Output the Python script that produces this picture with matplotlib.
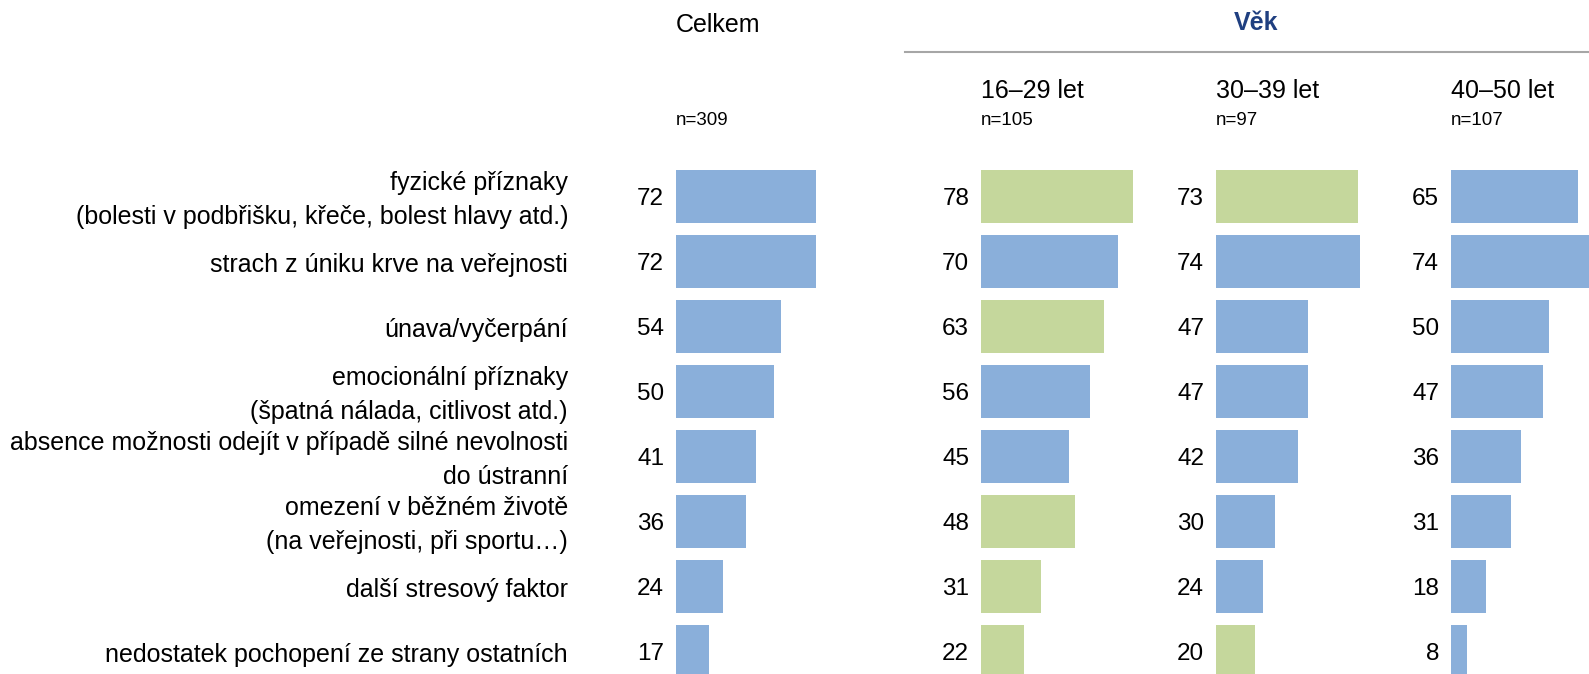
import numpy as np
import matplotlib.pyplot as plt
from matplotlib import transforms

plt.rcParams['font.family'] = ['Liberation Sans', 'DejaVu Sans']

# data
categories = [
    'fyzické příznaky\n(bolesti v podbřišku, křeče, bolest hlavy atd.)',
    'strach z úniku krve na veřejnosti',
    'únava/vyčerpání',
    'emocionální příznaky\n(špatná nálada, citlivost atd.)',
    'absence možnosti odejít v případě silné nevolnosti\ndo ústranní',
    'omezení v běžném životě\n(na veřejnosti, při sportu…)',
    'další stresový faktor',
    'nedostatek pochopení ze strany ostatních',
]
groups = ['Celkem', '16–29 let', '30–39 let', '40–50 let']
n_labels = ['n=309', 'n=105', 'n=97', 'n=107']
celkem = [72, 72, 54, 50, 41, 36, 24, 17]
vek_16_29 = [78, 70, 63, 56, 45, 48, 31, 22]
vek_30_39 = [73, 74, 47, 47, 42, 30, 24, 20]
vek_40_50 = [65, 74, 50, 47, 36, 31, 18, 8]
# 1 = significantly higher (green)
hl_celkem = [0, 0, 0, 0, 0, 0, 0, 0]
hl_16_29 = [1, 0, 1, 0, 0, 1, 1, 1]
hl_30_39 = [1, 0, 0, 0, 0, 0, 0, 1]
hl_40_50 = [0, 0, 0, 0, 0, 0, 0, 0]

series = [celkem, vek_16_29, vek_30_39, vek_40_50]
highlights = [hl_celkem, hl_16_29, hl_30_39, hl_40_50]

BLUE = '#8aafda'
GREEN = '#c5d79c'

W, H = 1589, 674
fig = plt.figure(figsize=(W / 100, H / 100), dpi=100)

px_per_unit = 1.95
row_h = 65.0
row0 = 196.5          # centre of first row, px from top
ax_w = 200
starts = [676, 981, 1216, 1451]
top_px = row0 - 0.5 * row_h
ymax = (H - row0) / row_h

y = np.arange(len(categories))
axes = []
for k, (vals, hl) in enumerate(zip(series, highlights)):
    ax = fig.add_axes([starts[k] / W, 0, ax_w / W, (H - top_px) / H])
    colors = [GREEN if h else BLUE for h in hl]
    ax.barh(y, vals, height=0.815, color=colors, edgecolor='none')
    ax.set_xlim(0, ax_w / px_per_unit)
    ax.set_ylim(ymax, -0.5)
    ax.axis('off')
    for yi, v in zip(y, vals):
        ax.annotate(str(v), xy=(0, yi), xytext=(-8.5, 0), textcoords='offset points',
                    ha='right', va='center_baseline', fontsize=17.5, color='black')
    # headers
    fy = 1 - (98 if k > 0 else 32) / H
    fig.text(starts[k] / W, fy, groups[k], fontsize=18, ha='left', va='baseline')
    fig.text(starts[k] / W, 1 - 125 / H, n_labels[k], fontsize=13.5, ha='left', va='baseline')
    axes.append(ax)

# category labels (nudged a few px down to sit on the bar centre)
trans = transforms.blended_transform_factory(fig.transFigure, axes[0].transData)
trans = transforms.offset_copy(trans, fig=fig, x=0, y=-3.5, units='dots')
for yi, lab in zip(y, categories):
    axes[0].text(568 / W, yi, lab, transform=trans, ha='right', va='center',
                 fontsize=18, linespacing=1.5, multialignment='right')

# group header
fig.text(1256 / W, 1 - 30 / H, 'Věk', fontsize=18, fontweight='bold',
         color='#1f3f80', ha='center', va='baseline')
fig.add_artist(plt.Line2D([905 / W, 1], [1 - 52 / H] * 2, color='#a6a6a6', lw=1.5,
                          transform=fig.transFigure))

fig.savefig('out.png', dpi=100)
